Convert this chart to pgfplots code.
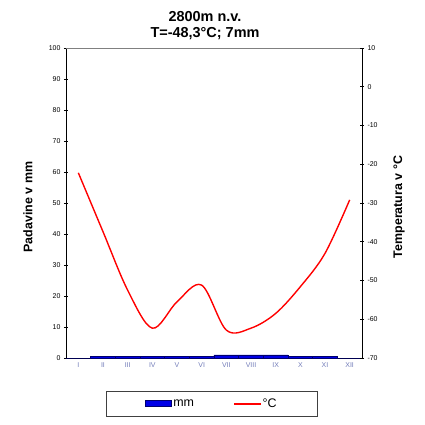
\documentclass[border=0pt]{standalone}
\usepackage{pgfplots}
\pgfplotsset{compat=1.18}
\usepackage{fontspec}
\setmainfont{Liberation Sans}
\definecolor{xlab}{RGB}{115,125,185}
\definecolor{barblue}{RGB}{0,0,230}
\definecolor{bardraw}{RGB}{0,0,110}
\pgfplotsset{
  mmlegend/.style={legend image code/.code={\draw[fill=barblue, draw=bardraw, line width=0.4pt] (0bp,-3bp) rectangle (26bp,3bp);}},
  tlegend/.style={legend image code/.code={\fill[red] (0bp,-0.7bp) rectangle (26bp,0.7bp);}},
}
\begin{document}
\begin{tikzpicture}[x=1bp,y=1bp]
\begin{axis}[
  name=ax1,
  at={(0,0)}, anchor=south west,
  scale only axis, width=296bp, height=310bp,
  xmin=0.5, xmax=12.5, ymin=0, ymax=100,
  axis x line*=bottom, axis y line*=left,
  xtick={1,...,12},
  xticklabels={I,II,III,IV,V,VI,VII,VIII,IX,X,XI,XII},
  minor xtick={0.5,1.5,...,12.5},
  x tick style={draw=none},
  minor x tick style={black, line width=0.8pt},
  minor tick length=4bp,
  xticklabel style={font=\fontsize{7}{8}\selectfont, text=xlab, yshift=-1bp},
  ytick={0,10,...,100},
  y tick style={black, line width=0.6pt},
  ytick align=center, major tick length=4bp,
  yticklabel style={font=\fontsize{7}{8}\selectfont},
  /pgf/number format/assume math mode=true,
  ylabel={Padavine v mm},
  ylabel style={font=\bfseries\fontsize{12.5}{14}\selectfont, at={(axis description cs:0,0.5)}, anchor=center, xshift=-4bp, yshift=38bp},
  axis line style={line width=0.8pt},
  title={2800m n.v.\\ T=-48,3°C; 7mm},
  title style={font=\bfseries\fontsize{14.5}{16}\selectfont, align=center, yshift=-1bp, xshift=-9bp},
  clip=false,
]
\addplot[ybar, bar width=1, fill=barblue, draw=bardraw, line width=0.4pt, bar shift=0]
  coordinates {(1,0) (2,0.5) (3,0.5) (4,0.5) (5,0.5) (6,0.5) (7,1) (8,1) (9,1) (10,0.5) (11,0.5) (12,0)};
\draw[gray, line width=0.6pt] (axis cs:0.5,100) -- (axis cs:12.5,100);
\end{axis}
\begin{axis}[
  at={(0,0)}, anchor=south west,
  scale only axis, width=296bp, height=310bp,
  xmin=0.5, xmax=12.5, ymin=-70, ymax=10,
  axis x line=none, axis y line*=right,
  ytick={-70,-60,...,10},
  y tick style={black, line width=0.6pt},
  ytick align=center, major tick length=4bp,
  yticklabel style={font=\fontsize{7}{8}\selectfont},
  /pgf/number format/assume math mode=true,
  ylabel={Temperatura v °C},
  ylabel style={font=\bfseries\fontsize{12.5}{14}\selectfont, at={(axis description cs:1,0.5)}, anchor=center, xshift=-4bp, yshift=-37bp},
  axis line style={line width=0.8pt},
  legend style={at={(axis description cs:0.4926,-0.147)}, anchor=center, legend columns=2,
     draw=black!75, line width=0.6pt, font=\fontsize{12.5}{13}\selectfont,
     inner xsep=38.5bp, inner ysep=5.5bp, /tikz/every even column/.append style={column sep=38bp}},
  legend cell align=left,
  clip=false,
]
\addlegendimage{mmlegend}
\addlegendentry{mm}
\addlegendimage{tlegend}
\addlegendentry{°C}
\addplot[red, line width=1.4pt, smooth, tension=0.55, forget plot]
  coordinates {(1,-22.2) (2,-37.4) (3,-52.5) (4,-62.3) (5,-55.5) (6,-51.2) (7,-62.8) (8,-62.3) (9,-58.5) (10,-51.6) (11,-43) (12,-29.2)};
\end{axis}
\pgfresetboundingbox
\path[use as bounding box] (-66,-67) rectangle (359,358);
\end{tikzpicture}
\end{document}
